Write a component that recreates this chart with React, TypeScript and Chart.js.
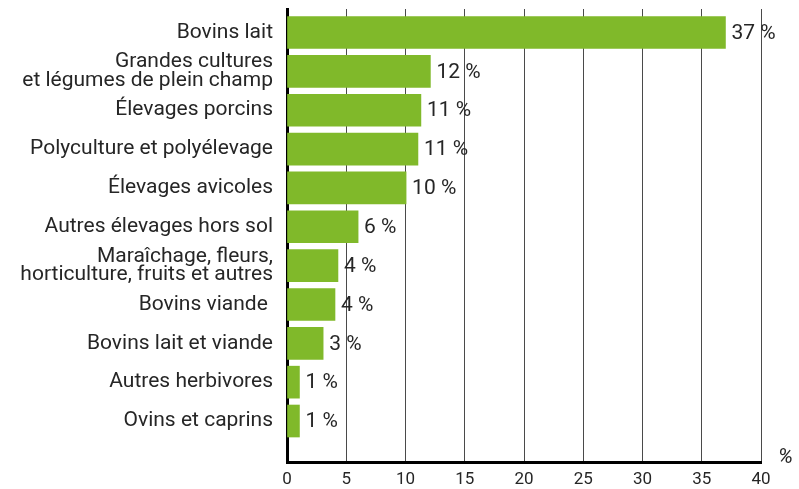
import React, { useEffect, useRef } from "react";
import { Chart, registerables } from "chart.js";

Chart.register(...registerables);

const categories: (string | string[])[] = [
  "Bovins lait",
  ["Grandes cultures", "et légumes de plein champ"],
  "Élevages porcins",
  "Polyculture et polyélevage",
  "Élevages avicoles",
  "Autres élevages hors sol",
  ["Maraîchage, fleurs,", "horticulture, fruits et autres"],
  "Bovins viande ",
  "Bovins lait et viande",
  "Autres herbivores",
  "Ovins et caprins",
];
const values = [37, 12.1, 11.3, 11.05, 10.05, 6, 4.3, 4.05, 3.05, 1.05, 1.05];
const valueLabels = ["37 %", "12 %", "11 %", "11 %", "10 %", "6 %", "4 %", "4 %", "3 %", "1 %", "1 %"];
const xTickValues = [0, 5, 10, 15, 20, 25, 30, 35, 40];
const unitLabel = "%";

const FONT = "Roboto";
const WEIGHT = 400;
const TEXT = "#262626";
const GREEN = "#80b92a";

const labelPlugin = {
  id: "valueLabels",
  afterDatasetsDraw(chart: any) {
    const ctx = chart.ctx;
    const meta = chart.getDatasetMeta(0);
    ctx.save();
    ctx.font = `${WEIGHT} 21px ${FONT}`;
    ctx.fillStyle = TEXT;
    ctx.textBaseline = "middle";
    ctx.textAlign = "left";
    meta.data.forEach((el: any, i: number) => {
      ctx.fillText(valueLabels[i], el.x + 6, el.y + 1);
    });
    ctx.font = `italic ${WEIGHT} 21px ${FONT}`;
    ctx.textBaseline = "alphabetic";
    ctx.fillText(unitLabel, chart.chartArea.right + 17, chart.chartArea.bottom + 1);
    ctx.restore();
  },
};

export default function App() {
  const ref = useRef<HTMLCanvasElement | null>(null);
  useEffect(() => {
    const canvas = ref.current;
    if (!canvas) return;
    const chart = new Chart(canvas, {
      type: "bar",
      data: {
        datasets: [
          {
            data: values.map((v, i) => ({ x: v, y: i })) as any,
            backgroundColor: GREEN,
            barThickness: 32,
            borderWidth: 0,
          },
        ],
      },
      options: {
        indexAxis: "y",
        animation: false,
        responsive: false,
        layout: { padding: { top: 9, right: 38, left: 0, bottom: 0 } },
        plugins: { legend: { display: false }, tooltip: { enabled: false } },
        scales: {
          x: {
            type: "linear",
            min: 0,
            max: 40,
            offset: false,
            afterBuildTicks: (s: any) => {
              s.ticks = xTickValues.map((v) => ({ value: v }));
            },
            afterFit: (s: any) => {
              s.height = 27;
              s.paddingLeft = 0;
              s.paddingRight = 0;
            },
            grid: { color: "#4a4a4a", lineWidth: 1, drawTicks: false, offset: false },
            border: { display: true, color: "#000", width: 3 },
            ticks: {
              color: TEXT,
              font: { family: FONT, size: 17, weight: WEIGHT },
              padding: 8,
              maxRotation: 0,
            },
          },
          y: {
            type: "linear",
            reverse: true,
            min: -0.605,
            max: 11.055,
            offset: false,
            z: 1,
            afterBuildTicks: (s: any) => {
              s.ticks = categories.map((_, i) => ({ value: i }));
            },
            afterFit: (s: any) => {
              s.width = 287;
              s.paddingTop = 0;
              s.paddingBottom = 0;
            },
            grid: { display: false, drawTicks: false, offset: false },
            border: { display: true, color: "#000", width: 3 },
            ticks: {
              callback: (v: any) => categories[Math.round(Number(v))],
              color: TEXT,
              font: { family: FONT, size: 21, weight: WEIGHT, lineHeight: 0.88 },
              padding: 14,
              autoSkip: false,
            },
          },
        },
      } as any,
      plugins: [labelPlugin],
    });
    return () => chart.destroy();
  }, []);
  return (
    <div style={{ position: "absolute", left: 0, top: 0, width: 799, height: 489, background: "#fff" }}>
      <canvas ref={ref} width={799} height={489} />
    </div>
  );
}
